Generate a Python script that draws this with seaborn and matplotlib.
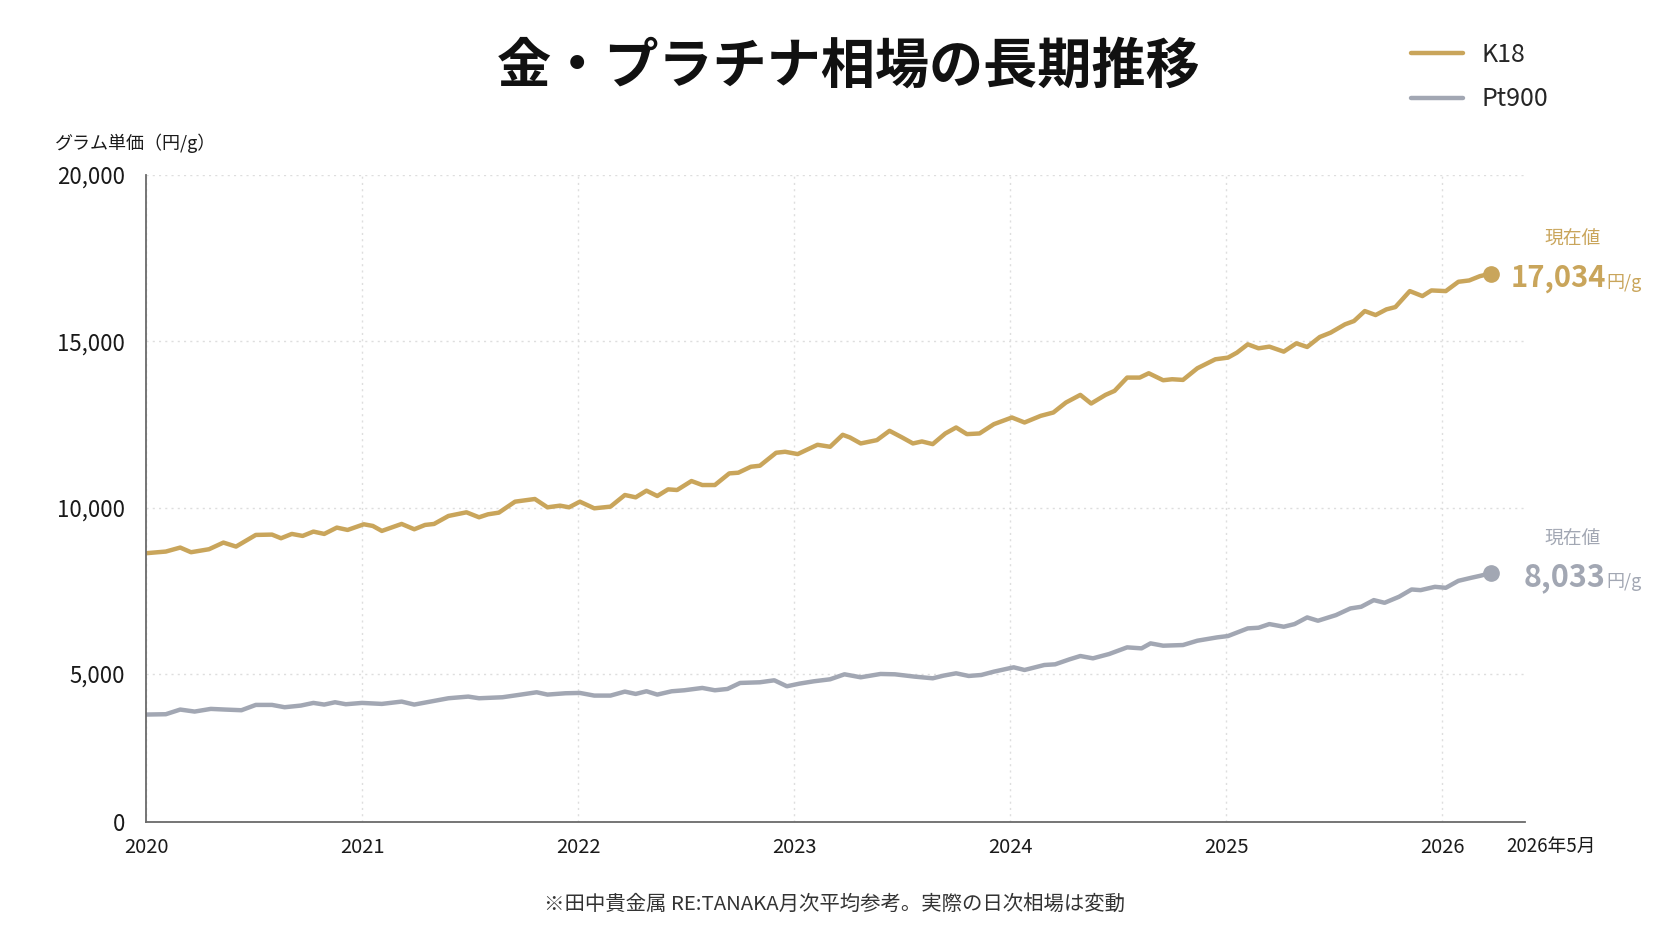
import numpy as np
import pandas as pd
import seaborn as sns
import matplotlib.pyplot as plt

# months since 2020-01
k18_month = [0.0, 1.1, 1.9, 2.5, 3.5, 4.3, 5.0, 6.1, 7.0, 7.5, 8.1, 8.7, 9.3, 9.9, 10.6, 11.2,
             12.1, 12.6, 13.1, 14.2, 14.9, 15.5, 16.0, 16.8, 17.8, 18.5, 19.0, 19.6, 20.5, 21.6,
             22.3, 23.0, 23.5, 24.1, 24.9, 25.8, 26.6, 27.2, 27.8, 28.4, 29.0, 29.5, 30.3, 30.9,
             31.6, 32.4, 32.9, 33.6, 34.1, 35.0, 35.5, 36.2, 37.3, 38.0, 38.7, 39.1, 39.7, 40.6,
             41.3, 42.0, 42.6, 43.1, 43.7, 44.4, 45.0, 45.6, 46.3, 47.1, 48.1, 48.8, 49.7, 50.4,
             51.1, 51.9, 52.5, 53.3, 53.8, 54.5, 55.2, 55.7, 56.5, 57.0, 57.6, 58.4, 59.4, 60.1,
             60.6, 61.2, 61.8, 62.4, 63.2, 63.9, 64.5, 65.2, 65.8, 66.6, 67.1, 67.7, 68.3, 68.9,
             69.4, 70.2, 70.9, 71.4, 72.2, 72.9, 73.5, 74.1, 74.7]
k18_price = [8630, 8680, 8800, 8660, 8750, 8950, 8830, 9180, 9190, 9080, 9210, 9150, 9280, 9210, 9400, 9330,
             9500, 9450, 9300, 9510, 9350, 9480, 9510, 9750, 9860, 9710, 9800, 9850, 10180, 10260,
             10010, 10060, 10010, 10180, 9980, 10030, 10380, 10310, 10510, 10350, 10550, 10530, 10800, 10680,
             10680, 11030, 11050, 11230, 11260, 11650, 11680, 11610, 11890, 11830, 12190, 12110, 11930, 12030,
             12310, 12110, 11930, 11990, 11910, 12230, 12410, 12210, 12230, 12510, 12710, 12560, 12760, 12860,
             13160, 13390, 13130, 13390, 13510, 13910, 13910, 14040, 13830, 13860, 13840, 14190, 14460, 14510,
             14660, 14910, 14790, 14840, 14690, 14940, 14830, 15130, 15260, 15510, 15610, 15910, 15790, 15960,
             16030, 16510, 16360, 16530, 16510, 16790, 16830, 16960, 17034]

pt_month = [0.0, 1.1, 1.9, 2.7, 3.6, 4.4, 5.3, 6.1, 7.0, 7.7, 8.6, 9.3, 9.9, 10.5, 11.1,
            12.0, 13.1, 14.2, 14.9, 16.0, 16.8, 17.9, 18.5, 19.8, 20.7, 21.7, 22.3, 23.3,
            24.1, 24.9, 25.8, 26.6, 27.2, 27.8, 28.4, 29.2, 29.9, 30.9, 31.6, 32.3, 33.0, 34.1,
            34.9, 35.6, 36.3, 37.1, 38.0, 38.8, 39.7, 40.8, 41.6, 42.7, 43.7, 44.3, 45.0, 45.7,
            46.4, 47.1, 48.2, 48.8, 49.9, 50.5, 51.3, 51.9, 52.6, 53.5, 54.5, 55.3, 55.8, 56.5,
            57.6, 58.4, 59.5, 60.1, 61.2, 61.8, 62.4, 63.2, 63.8, 64.5, 65.1, 66.1, 66.9, 67.5,
            68.2, 68.8, 69.6, 70.3, 70.8, 71.6, 72.2, 72.9, 73.6, 74.1, 74.7]
pt_price = [3780, 3790, 3930, 3870, 3950, 3930, 3910, 4070, 4070, 4000, 4050, 4130, 4080, 4150, 4090,
            4130, 4100, 4170, 4080, 4190, 4270, 4320, 4270, 4300, 4370, 4450, 4380, 4420,
            4430, 4350, 4350, 4470, 4400, 4480, 4380, 4480, 4510, 4580, 4510, 4550, 4730, 4750,
            4810, 4630, 4710, 4780, 4840, 4990, 4900, 5000, 4990, 4920, 4870, 4950, 5020, 4940,
            4970, 5070, 5200, 5120, 5270, 5290, 5440, 5540, 5470, 5600, 5800, 5770, 5920, 5850,
            5870, 6000, 6100, 6140, 6370, 6390, 6500, 6420, 6500, 6700, 6600, 6770, 6970, 7020,
            7220, 7140, 7320, 7540, 7520, 7620, 7590, 7800, 7890, 7950, 8033]

year_ticks = [0, 12, 24, 36, 48, 60, 72]
year_labels = ['2020', '2021', '2022', '2023', '2024', '2025', '2026']
y_ticks = [550, 5000, 10000, 15000, 20000]
y_labels = ['0', '5,000', '10,000', '15,000', '20,000']

GOLD = '#C9A55B'
GREY = '#A2A7B3'

sns.set_style('white')
plt.rcParams['font.family'] = ['Noto Sans CJK JP', 'DejaVu Sans']

fig = plt.figure(figsize=(16.72, 9.41), dpi=100)
ax = fig.add_axes([146/1672, 1-822/941, (1525-146)/1672, (822-175)/941])

k18 = pd.DataFrame({'month': k18_month, 'price': k18_price})
pt = pd.DataFrame({'month': pt_month, 'price': pt_price})
sns.lineplot(data=k18, x='month', y='price', ax=ax, color=GOLD, lw=3.2, label='K18',
             solid_joinstyle='round', solid_capstyle='round')
sns.lineplot(data=pt, x='month', y='price', ax=ax, color=GREY, lw=3.2, label='Pt900',
             solid_joinstyle='round', solid_capstyle='round')

# end markers with current value labels
styles = [(k18, GOLD, 21, 'bold'), (pt, GREY, 22, 'semibold')]
for df, c, fs, fw in styles:
    last = df.iloc[-1]
    ax.plot(last['month'], last['price'], 'o', color=c, ms=11, zorder=5, clip_on=False)
    ax.annotate('現在値', (last['month'], last['price']), xytext=(82, 34),
                textcoords='offset pixels', ha='center', va='center', color=c, fontsize=13.5)
    ax.annotate(f"{int(last['price']):,}", (last['month'], last['price']), xytext=(115, -4),
                textcoords='offset pixels', ha='right', va='center', color=c,
                fontsize=fs, fontweight=fw, annotation_clip=False)
    ax.annotate('円/g', (last['month'], last['price']), xytext=(116, -9),
                textcoords='offset pixels', ha='left', va='center', color=c, fontsize=13)

ax.set_xlim(0, 76.6)
ax.set_ylim(550, 20000)
ax.set_xticks(year_ticks)
ax.set_xticklabels(year_labels)
ax.set_yticks(y_ticks)
ax.set_yticklabels(y_labels)
ax.set_xlabel('')
ax.set_ylabel('')

ax.grid(True, ls=(0, (1.5, 3)), color='#dedede', lw=1)
ax.set_axisbelow(True)
for s in ['top', 'right']:
    ax.spines[s].set_visible(False)
for s in ['left', 'bottom']:
    ax.spines[s].set_color('#6a6a6a')
    ax.spines[s].set_linewidth(1.3)
ax.tick_params(axis='y', length=7, width=1.2, color='#6a6a6a', labelsize=16, pad=8, labelcolor='#1a1a1a')
ax.tick_params(axis='x', length=0, labelsize=14.5, pad=11, labelcolor='#1a1a1a')

ax.legend(loc='upper left', bbox_to_anchor=(1388/1672, 1-19/941), bbox_transform=fig.transFigure,
          frameon=False, fontsize=18, handlelength=2.1, handletextpad=0.75, labelspacing=0.75)
for line in ax.get_legend().get_lines():
    line.set_linewidth(3.2)

fig.text(849/1672, 1-67/941, '金・プラチナ相場の長期推移', ha='center', va='center',
         fontsize=39, fontweight='bold', color='#111111')
fig.text(55/1672, 1-143/941, 'グラム単価（円/g）', ha='left', va='center', fontsize=13, color='#1a1a1a')
fig.text(1506/1672, 1-846/941, '2026年5月', ha='left', va='center', fontsize=13.5, color='#1a1a1a')
fig.text(835/1672, 1-904/941, '※田中貴金属 RE:TANAKA月次平均参考。実際の日次相場は変動',
         ha='center', va='center', fontsize=14.7, color='#333333')

fig.savefig('out.png', dpi=100, facecolor='white')
